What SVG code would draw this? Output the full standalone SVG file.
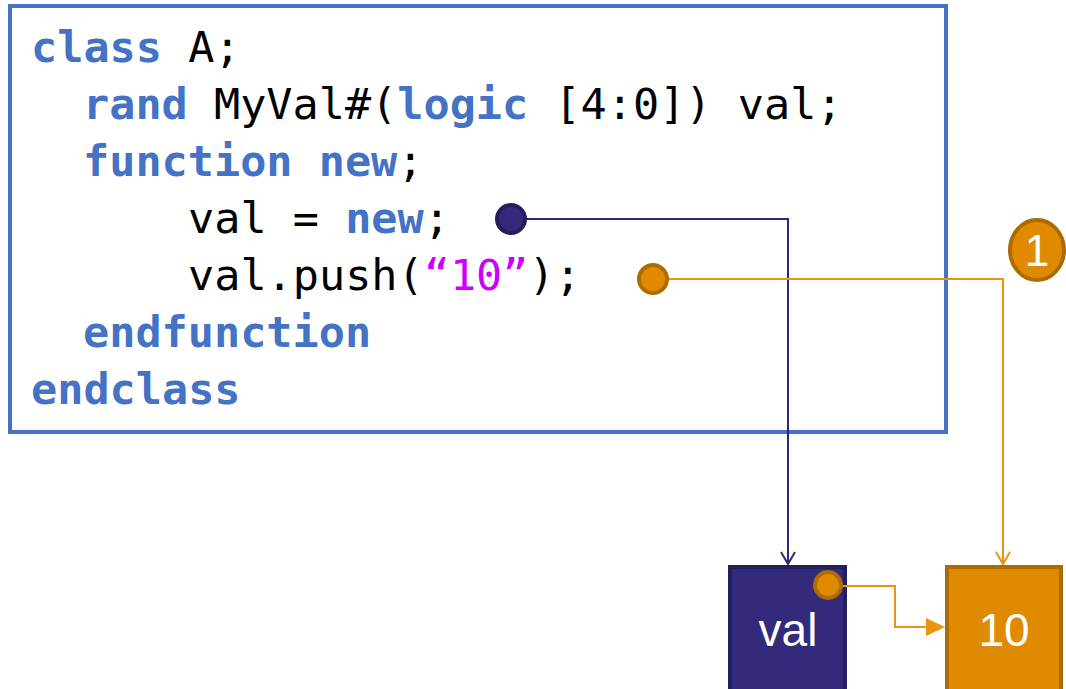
<svg xmlns="http://www.w3.org/2000/svg" width="1066" height="689" viewBox="0 0 1066 689">
  <style>
    .code { font-family: "DejaVu Sans Mono", "Liberation Mono", monospace; font-size: 43.5px; fill: #000000; }
    .kw { fill: #4472C4; font-weight: bold; }
    .str { fill: #CC00FF; }
    .label { font-family: "Liberation Sans", Arial, sans-serif; font-size: 46px; fill: #FFFFFF; text-anchor: middle; }
    .wire-dark { fill: none; stroke: #2E2878; stroke-width: 2; }
    .wire-orange { fill: none; stroke: #E8960E; stroke-width: 2; }
    .dot-dark { fill: #332A7C; stroke: #241E5C; stroke-width: 4; }
    .dot-orange { fill: #E08A00; stroke: #AD6C00; stroke-width: 4; }
  </style>
  <defs>
    <!-- open "V" arrowheads, tip at the path end -->
    <marker id="openDark" viewBox="0 0 16 16" refX="15" refY="8" markerWidth="16" markerHeight="16" markerUnits="userSpaceOnUse" orient="auto">
      <path d="M3,1 L15,8 L3,15" fill="none" stroke="#2E2878" stroke-width="2"/>
    </marker>
    <marker id="openOrange" viewBox="0 0 16 16" refX="15" refY="8" markerWidth="16" markerHeight="16" markerUnits="userSpaceOnUse" orient="auto">
      <path d="M3,1 L15,8 L3,15" fill="none" stroke="#E8960E" stroke-width="2"/>
    </marker>
  </defs>

  <!-- class source listing -->
  <g id="code">
    <rect x="10" y="6" width="936" height="426" fill="#FFFFFF" stroke="#4472C4" stroke-width="4"/>
    <text class="code" xml:space="preserve">
      <tspan x="31" y="62"><tspan class="kw">class</tspan> A;</tspan>
      <tspan x="83" y="119"><tspan class="kw">rand</tspan> MyVal#(<tspan class="kw">logic</tspan> [4:0]) val;</tspan>
      <tspan x="83" y="176"><tspan class="kw">function</tspan> <tspan class="kw">new</tspan>;</tspan>
      <tspan x="188" y="233">val = <tspan class="kw">new</tspan>;</tspan>
      <tspan x="188" y="290">val.push(<tspan class="str">“10”</tspan>);</tspan>
      <tspan x="83" y="347"><tspan class="kw">endfunction</tspan></tspan>
      <tspan x="31" y="404"><tspan class="kw">endclass</tspan></tspan>
    </text>
  </g>

  <!-- queue object -->
  <g id="node-val">
    <rect x="730" y="567" width="115" height="124" fill="#332A7C" stroke="#241E5C" stroke-width="4"/>
    <text class="label" x="788" y="646">val</text>
  </g>

  <!-- queue element -->
  <g id="node-10">
    <rect x="947" y="567" width="114" height="124" fill="#E08A00" stroke="#AD6C00" stroke-width="4"/>
    <text class="label" x="1004" y="646">10</text>
  </g>

  <!-- connectors -->
  <g id="connectors">
    <polyline class="wire-dark" points="511,219 788,219 788,564" marker-end="url(#openDark)"/>
    <polyline class="wire-orange" points="653,279 1003,279 1003,564" marker-end="url(#openOrange)"/>
    <polyline class="wire-orange" points="828,586 895,586 895,627 930,627"/>
    <polygon points="926,618 945,627 926,636" fill="#E8960E"/>
  </g>

  <!-- handles -->
  <g id="handle-new">
    <circle class="dot-dark" cx="511" cy="219" r="14"/>
  </g>
  <g id="handle-push">
    <circle class="dot-orange" cx="653" cy="279" r="14"/>
  </g>
  <g id="handle-element">
    <circle class="dot-orange" cx="828" cy="585" r="13"/>
  </g>

  <!-- step badge -->
  <g id="badge-1">
    <ellipse cx="1037" cy="250" rx="27" ry="30" fill="#E08A00" stroke="#AD6C00" stroke-width="4"/>
    <text x="1037" y="266" font-family="Liberation Sans, Arial, sans-serif" font-size="44" fill="#FFFFFF" text-anchor="middle">1</text>
  </g>
</svg>
